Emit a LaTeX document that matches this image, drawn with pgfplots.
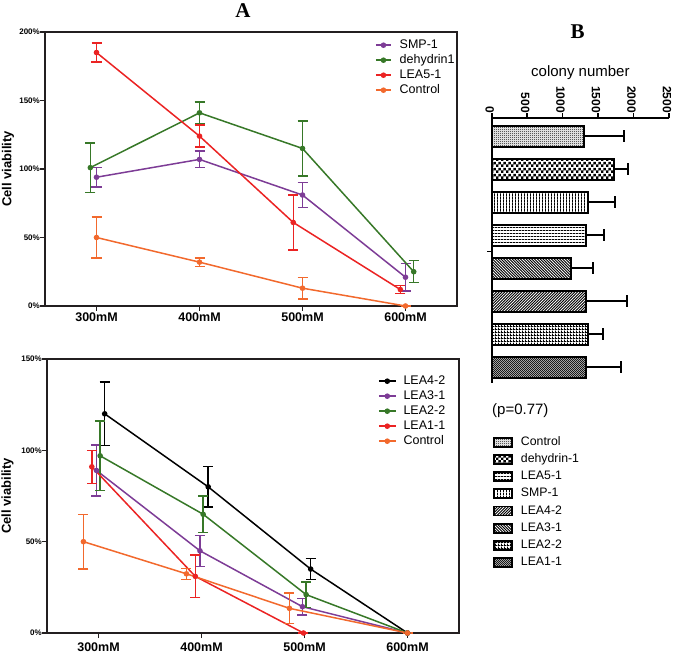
\documentclass[border=0pt]{standalone}
\usepackage{fontspec}
\setmainfont{Liberation Sans}
\newfontfamily\seriffont{Liberation Serif}
\usepackage{pgfplots}
\pgfplotsset{compat=1.18}
\usetikzlibrary{patterns}
\newcommand\fs[1]{\fontsize{#1}{#1}\selectfont}

\definecolor{axcol}{RGB}{35,31,32}
\definecolor{cpurple}{RGB}{125,60,150}
\definecolor{cgreen}{RGB}{55,120,40}
\definecolor{cred}{RGB}{235,35,35}
\definecolor{corange}{RGB}{242,105,45}

% bar fills of panel B
\pgfdeclarepatternformonly{finechk}{\pgfqpoint{0bp}{0bp}}{\pgfqpoint{2bp}{2bp}}{\pgfqpoint{2bp}{2bp}}{%
  \pgfpathrectangle{\pgfqpoint{0bp}{0bp}}{\pgfqpoint{1bp}{1bp}}%
  \pgfpathrectangle{\pgfqpoint{1bp}{1bp}}{\pgfqpoint{1bp}{1bp}}%
  \pgfusepath{fill}}
\pgfdeclarepatternformonly{bigchk}{\pgfqpoint{0bp}{0bp}}{\pgfqpoint{5.4bp}{5.4bp}}{\pgfqpoint{5.4bp}{5.4bp}}{%
  \pgfpathrectangle{\pgfqpoint{0bp}{0bp}}{\pgfqpoint{2.7bp}{2.7bp}}%
  \pgfpathrectangle{\pgfqpoint{2.7bp}{2.7bp}}{\pgfqpoint{2.7bp}{2.7bp}}%
  \pgfusepath{fill}}
\pgfdeclarepatternformonly{vlin}{\pgfqpoint{0bp}{0bp}}{\pgfqpoint{2.7bp}{2.7bp}}{\pgfqpoint{2.7bp}{2.7bp}}{%
  \pgfpathrectangle{\pgfqpoint{0bp}{0bp}}{\pgfqpoint{0.9bp}{2.7bp}}%
  \pgfusepath{fill}}
\pgfdeclarepatternformonly{hlin}{\pgfqpoint{0bp}{0bp}}{\pgfqpoint{3bp}{3bp}}{\pgfqpoint{3bp}{3bp}}{%
  \pgfpathrectangle{\pgfqpoint{0bp}{0bp}}{\pgfqpoint{3bp}{1bp}}%
  \pgfusepath{fill}}
\pgfdeclarepatternformonly{nwlin}{\pgfqpoint{-1bp}{-1bp}}{\pgfqpoint{3.8bp}{3.8bp}}{\pgfqpoint{2.8bp}{2.8bp}}{%
  \pgfsetlinewidth{0.9bp}%
  \pgfpathmoveto{\pgfqpoint{-0.1bp}{2.9bp}}\pgfpathlineto{\pgfqpoint{2.9bp}{-0.1bp}}%
  \pgfusepath{stroke}}
\pgfdeclarepatternformonly{nelin}{\pgfqpoint{-1bp}{-1bp}}{\pgfqpoint{3.8bp}{3.8bp}}{\pgfqpoint{2.8bp}{2.8bp}}{%
  \pgfsetlinewidth{0.9bp}%
  \pgfpathmoveto{\pgfqpoint{-0.1bp}{-0.1bp}}\pgfpathlineto{\pgfqpoint{2.9bp}{2.9bp}}%
  \pgfusepath{stroke}}
\pgfdeclarepatternformonly{gridp}{\pgfqpoint{0bp}{0bp}}{\pgfqpoint{3bp}{3bp}}{\pgfqpoint{3bp}{3bp}}{%
  \pgfpathrectangle{\pgfqpoint{0bp}{0bp}}{\pgfqpoint{3bp}{1bp}}%
  \pgfpathrectangle{\pgfqpoint{0bp}{0bp}}{\pgfqpoint{1bp}{3bp}}%
  \pgfusepath{fill}}
\pgfdeclarepatternformonly{densenw}{\pgfqpoint{-1bp}{-1bp}}{\pgfqpoint{3bp}{3bp}}{\pgfqpoint{2bp}{2bp}}{%
  \pgfsetlinewidth{0.7bp}%
  \pgfpathmoveto{\pgfqpoint{-0.1bp}{2.1bp}}\pgfpathlineto{\pgfqpoint{2.1bp}{-0.1bp}}%
  \pgfusepath{stroke}}

\pgfplotsset{
  cellaxis/.style={
    width=412bp, height=274bp, scale only axis, clip=false,
    xmin=0.5, xmax=4.5,
    xtick={1,2,3,4}, xticklabels={300mM,400mM,500mM,600mM},
    tick pos=left, tick align=outside, major tick length=5bp,
    axis line style={line width=1.5bp, axcol},
    major tick style={line width=1.3bp, axcol},
    xticklabel style={font=\bfseries\fs{12.5bp}, inner sep=0pt},
    yticklabel style={font=\bfseries\fs{8bp}, inner sep=0pt},
    ylabel={Cell viability},
    ylabel style={font=\bfseries\fs{13bp}, anchor=center},
    legend style={draw=none, fill=none, inner sep=0pt, font=\fs{12.5bp},
      row sep=4bp, nodes={inner sep=0pt, text height=8.5bp, text depth=2.5bp}},
    legend cell align=left,
    every axis plot/.append style={line width=1.5bp, mark=*, mark size=2bp, mark options={solid}},
    error bars/y dir=both, error bars/y explicit,
    error bars/error bar style={line width=1.4bp},
    error bars/error mark options={rotate=90, mark size=5bp, line width=1.4bp},
  }
}

\begin{document}
\begin{tikzpicture}

% ---------- panel A, top ----------
\begin{axis}[cellaxis, at={(45bp,348bp)}, anchor=south west,
  ymin=0, ymax=200, ytick={0,50,100,150,200},
  yticklabels={0\%,50\%,100\%,150\%,200\%},
  xticklabel style={yshift=-1.5bp},
  ylabel style={at={(axis description cs:-0.0898,0.5)}},
  legend style={at={(axis description cs:0.801,0.9726)}, anchor=north west, column sep=8bp},
  legend image code/.code={\draw[mark repeat=2, mark phase=2, #1] plot coordinates {(0bp,0bp) (7.5bp,0bp) (15bp,0bp)};},
]
\addplot[cpurple] coordinates {(1,94) +- (0,7) (2,107) +- (0,6) (3,81) +- (0,9) (4,21) +- (0,10)};
\addplot[cgreen] coordinates {(0.94,101) +- (0,18) (2,141) +- (0,8) (3,115) +- (0,20) (4.08,25) +- (0,8)};
\addplot[cred] coordinates {(1,185) +- (0,7) (2,124) +- (0,8) (2.91,61) +- (0,20) (3.95,12) +- (0,3)};
\addplot[corange] coordinates {(1,50) +- (0,15) (2,32) +- (0,3) (3,13) +- (0,8) (4,0) +- (0,0)};
\legend{SMP-1,dehydrin1,LEA5-1,Control}
\end{axis}

% ---------- panel A, bottom ----------
\begin{axis}[cellaxis, at={(47bp,21bp)}, anchor=south west,
  ymin=0, ymax=150, ytick={0,50,100,150},
  yticklabels={0\%,50\%,100\%,150\%},
  xticklabel style={yshift=-5bp},
  ylabel style={at={(axis description cs:-0.0959,0.5)}},
  legend style={at={(axis description cs:0.803,0.9398)}, anchor=north west, column sep=7bp},
  legend image code/.code={\draw[mark repeat=2, mark phase=2, #1] plot coordinates {(0bp,0bp) (8.5bp,0bp) (17bp,0bp)};},
]
\addplot[black] coordinates {(1.06,120) +- (0,17.5) (2.065,80) +- (0,11) (3.06,35) +- (0,5.7) (4,0) +- (0,0)};
\addplot[cpurple] coordinates {(0.98,89) +- (0,14) (1.985,45) +- (0,8.5) (2.98,14.4) +- (0,4.5) (4,0) +- (0,0)};
\addplot[cgreen] coordinates {(1.016,97) +- (0,19) (2.016,65) +- (0,10) (3.016,21) +- (0,7) (4,0) +- (0,0)};
\addplot[cred] coordinates {(0.935,91) +- (0,9) (1.94,31) +- (0,11.7) (2.99,0) +- (0,0)};
\addplot[corange] coordinates {(0.854,50) +- (0,15) (1.854,32.4) +- (0,3) (2.854,13.5) +- (0,8.4) (4,0) +- (0,0)};
\legend{LEA4-2,LEA3-1,LEA2-2,LEA1-1,Control}
\end{axis}

% ---------- panel B ----------
\begin{axis}[at={(491.7bp,271bp)}, anchor=south west,
  width=177.3bp, height=265.3bp, scale only axis, clip=false,
  xmin=0, xmax=2500, ymin=0.515, ymax=8.564,
  axis x line=top, axis y line=left,
  axis line style={-, line width=2bp, black},
  xtick={0,500,1000,1500,2000,2500}, xticklabels={0,500,1000,1500,2000,2500},
  ytick={4.5}, yticklabels={},
  tick align=outside, major tick length=4.5bp,
  major tick style={line width=1.6bp, black},
  xticklabel style={rotate=-90, anchor=east, font=\bfseries\fs{12bp}, inner sep=0pt, yshift=-2bp},
  xlabel={colony number},
  xlabel style={at={(axis description cs:0.5,1)}, yshift=45bp, anchor=center, font=\fs{15bp}},
  error bars/x dir=plus, error bars/x explicit,
  error bars/error bar style={line width=2bp, black},
  error bars/error mark options={rotate=90, mark size=6bp, line width=2bp, black},
  every axis plot/.append style={xbar, bar width=21bp, bar shift=0pt, draw=black, line width=2bp},
  legend style={at={(axis description cs:0.007,-0.202)}, anchor=north west,
    draw=none, fill=none, inner sep=0pt, font=\fs{12.3bp}, row sep=6.2bp, column sep=8bp,
    nodes={inner sep=0pt, text height=8.5bp, text depth=2.5bp}},
  legend cell align=left,
  legend image code/.code={\draw[#1, line width=1.8bp] (0bp,-4.5bp) rectangle (18bp,4.5bp);},
]
\addplot[pattern=finechk] coordinates {(1302,8) +- (564,0)};
\addplot[pattern=bigchk] coordinates {(1725,7) +- (193,0)};
\addplot[pattern=hlin] coordinates {(1326,5) +- (263,0)};
\addplot[pattern=vlin] coordinates {(1359,6) +- (380,0)};
\addplot[pattern=nelin] coordinates {(1326,3) +- (588,0)};
\addplot[pattern=nwlin] coordinates {(1114,4) +- (320,0)};
\addplot[pattern=gridp] coordinates {(1359,2) +- (206,0)};
\addplot[pattern=densenw] coordinates {(1335,1) +- (485,0)};
\legend{Control,dehydrin-1,LEA5-1,SMP-1,LEA4-2,LEA3-1,LEA2-2,LEA1-1}
\end{axis}

\node[font=\seriffont\bfseries\fs{21bp}] at (243bp,643bp) {A};
\node[font=\seriffont\bfseries\fs{21bp}] at (577.5bp,622bp) {B};
\node[anchor=west, font=\fs{15bp}, inner sep=0pt] at (492bp,243.3bp) {(p=0.77)};

\pgfresetboundingbox
\path[use as bounding box] (0bp,0bp) rectangle (675bp,654bp);
\end{tikzpicture}
\end{document}
